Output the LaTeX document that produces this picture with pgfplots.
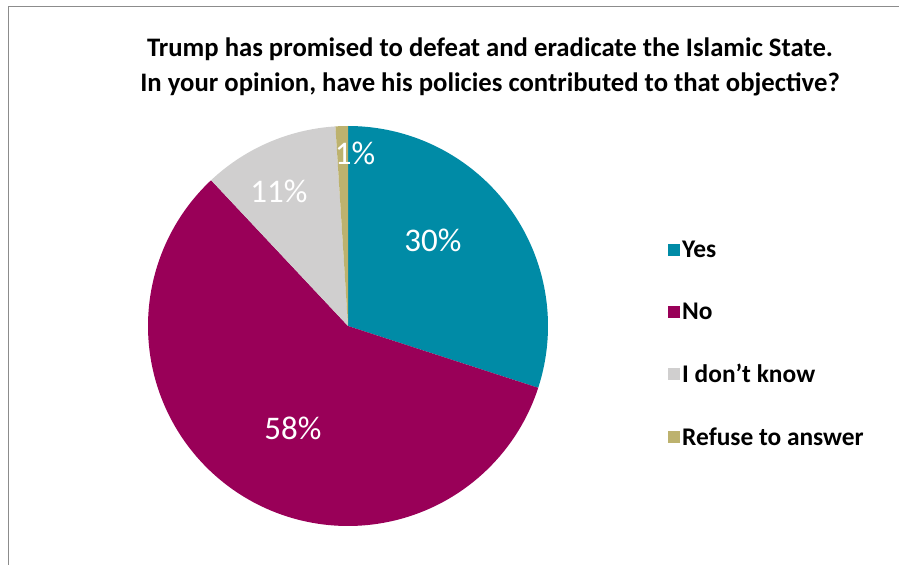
\documentclass[border=0pt]{standalone}
\usepackage{fontspec}
\setmainfont{Carlito}
\usepackage{pgfplots}
\usepackage{pgfplotstable}
\pgfplotsset{compat=1.18}
\definecolor{cyes}{HTML}{008BA6}
\definecolor{cno}{HTML}{990058}
\definecolor{cdk}{HTML}{D0CFCF}
\definecolor{crf}{HTML}{BDB26E}
\definecolor{frame}{HTML}{8C8C8C}
\pgfplotstableread{
label value
Yes 30
No 58
DK 11
Refuse 1
}\piedata
\begin{document}
\begin{tikzpicture}
\useasboundingbox (0,0) rectangle (899bp,565bp);
\draw[frame, line width=1bp] (8bp,0) -- (8bp,558bp) -- (899bp,558bp);
\node[align=center, font=\fontsize{26.7bp}{35bp}\selectfont\bfseries] at (490bp,498bp)
  {Trump has promised to defeat and eradicate the Islamic State.\\In your opinion, have his policies contributed to that objective?};
\pgfplotstablegetelem{0}{value}\of\piedata \let\vA\pgfplotsretval
\pgfplotstablegetelem{1}{value}\of\piedata \let\vB\pgfplotsretval
\pgfplotstablegetelem{2}{value}\of\piedata \let\vC\pgfplotsretval
\pgfplotstablegetelem{3}{value}\of\piedata \let\vD\pgfplotsretval
\pgfmathsetmacro\aA{90}
\pgfmathsetmacro\aB{\aA-3.6*\vA}
\pgfmathsetmacro\aC{\aB-3.6*\vB}
\pgfmathsetmacro\aD{\aC-3.6*\vC}
\pgfmathsetmacro\aE{\aD-3.6*\vD}
\begin{axis}[
  at={(348bp,239bp)}, anchor=center,
  scale only axis, width=400bp, height=400bp,
  xmin=-1, xmax=1, ymin=-1, ymax=1,
  hide axis, clip=false,
  legend style={at={(1.30,0.455)}, anchor=west, draw=none, fill=none,
    font=\fontsize{25.4bp}{28bp}\selectfont\bfseries,
    row sep=39.5bp, inner sep=0pt,
    nodes={inner sep=2bp, anchor=west}},
  legend cell align=left,
  legend image code/.code={\fill[#1, draw=none] (0bp,-6bp) rectangle (12bp,6bp);},
]
\addplot[fill=cyes, draw=none, domain=\aB:\aA, samples=80, smooth] ({cos(x)},{sin(x)}) -- (0,0) -- cycle;
\addlegendentry{Yes}
\addplot[fill=cno, draw=none, domain=\aC:\aB, samples=120, smooth] ({cos(x)},{sin(x)}) -- (0,0) -- cycle;
\addlegendentry{No}
\addplot[fill=cdk, draw=none, domain=\aD:\aC, samples=40, smooth] ({cos(x)},{sin(x)}) -- (0,0) -- cycle;
\addlegendentry{I don’t know}
\addplot[fill=crf, draw=none, domain=\aE:\aD, samples=5, smooth] ({cos(x)},{sin(x)}) -- (0,0) -- cycle;
\addlegendentry{Refuse to answer}
\node[white, font=\fontsize{33bp}{35bp}\selectfont] at (0.425,0.43) {\vA\%};
\node[white, font=\fontsize{33bp}{35bp}\selectfont] at (-0.275,-0.51) {\vB\%};
\node[white, font=\fontsize{33bp}{35bp}\selectfont] at (-0.345,0.675) {\vC\%};
\node[white, font=\fontsize{33bp}{35bp}\selectfont] at (0.035,0.865) {\vD\%};
\end{axis}
\end{tikzpicture}
\end{document}
